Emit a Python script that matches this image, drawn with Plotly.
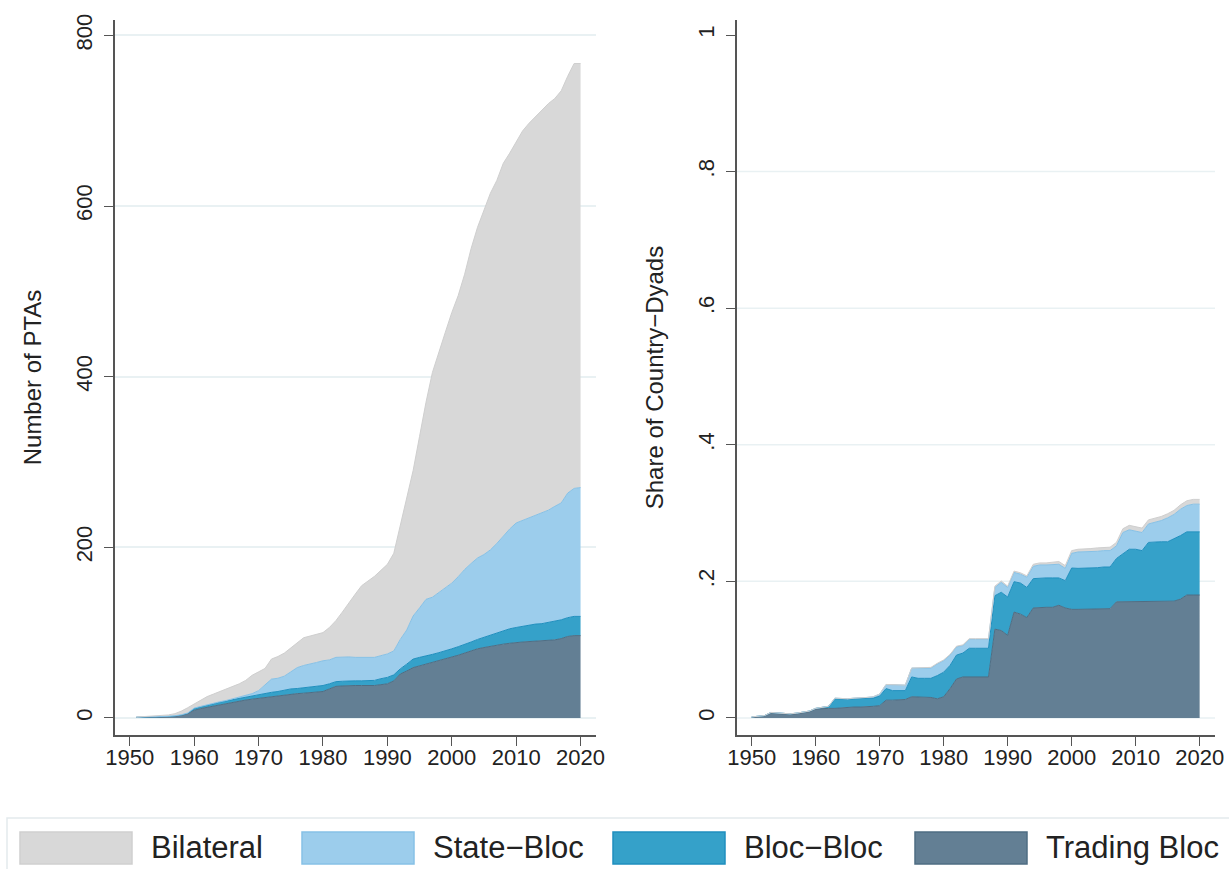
import plotly.graph_objects as go

# ---------------- data ----------------
years_left = list(range(1951, 2021))
left_trading_bloc = [0.5, 1, 1, 1, 1, 1.5, 2, 3, 5, 9, 11, 12.5, 14, 15.5, 17, 18.5, 20, 21, 22, 23,
                     24, 25, 26, 27, 28, 28.5, 29, 29.5, 30, 31, 34, 37, 37.5, 38, 38, 38, 38, 38, 39, 40,
                     43.5, 51.5, 55, 59, 61, 63, 65, 67, 69, 71, 73.5, 76, 78.5, 81, 82.5, 84, 85.5, 86.5, 87.5, 88.5,
                     89, 89.5, 90, 90, 91, 91.5, 93, 95.5, 96.5, 96.5]
left_bloc_bloc = [0.3, 0.3, 0.3, 0.3, 0.3, 0.3, 0.4, 0.5, 0.5, 2, 2, 2.5, 2.5, 3, 3, 3, 3, 3.5, 4, 4.5,
                  5, 5, 5, 5.5, 6, 6, 6.5, 6.5, 7, 7, 6, 5.5, 5.5, 5.5, 5.5, 5.5, 5.5, 6, 7, 7.5,
                  7, 6, 8, 10, 10, 9.5, 9.5, 9.5, 9.5, 10, 10, 10, 10.5, 11, 12, 13, 14, 15.5, 17, 17.5,
                  18.5, 19, 20, 20.5, 21, 21.5, 22, 22, 22.5, 22.5]
left_state_bloc = [0.1, 0.1, 0.1, 0.1, 0.2, 0.2, 0.2, 0.2, 0.3, 0.5, 0.5, 0.5, 0.5, 0.5, 0.5, 1, 1.5, 1.5, 2.5, 4.5,
                   10, 15.5, 15.5, 16.5, 20, 24.5, 26, 27, 28, 29, 28, 28.5, 28.5, 28, 27.5, 27.5, 27.5, 27, 27, 27.5,
                   28, 34.5, 40, 50.5, 58, 66.5, 67, 70.5, 73, 77, 82, 88, 92, 95.5, 97, 100, 105, 111, 117, 122.5,
                   124, 125.5, 127.5, 129.5, 131.5, 135, 137, 146, 150, 151]
left_bilateral = [0.1, 0.1, 0.1, 0.6, 1, 1.5, 2.4, 4.3, 6.2, 4.5, 7.5, 9.5, 11, 12, 13.5, 14.5, 15.5, 18, 21.5, 22,
                  19, 23.5, 25.5, 27, 28, 30, 32.5, 33, 33, 33, 38, 43, 52.5, 63.5, 74, 84, 89, 95, 100, 105,
                  114.5, 133, 153, 170.5, 201, 231, 263.5, 283, 300.5, 317, 329.5, 346, 369, 387.5, 403.5, 418, 425.5, 437, 440.5, 446.5,
                  456.5, 463, 467.5, 472, 476.5, 478, 483, 488.5, 498, 497]

years_right = list(range(1950, 2021))
right_trading_bloc = [0.001, 0.0015, 0.003, 0.007, 0.006, 0.005, 0.005, 0.006, 0.008, 0.009,
                      0.013, 0.014, 0.014, 0.014, 0.015, 0.015, 0.016, 0.016, 0.016, 0.017,
                      0.018, 0.026, 0.026, 0.027, 0.027, 0.031, 0.031, 0.031, 0.030, 0.028,
                      0.031, 0.043, 0.057, 0.060, 0.060, 0.060, 0.060, 0.060, 0.130, 0.128,
                      0.121, 0.155, 0.152, 0.147, 0.161, 0.162, 0.162, 0.162, 0.165, 0.161,
                      0.159, 0.159, 0.159, 0.159, 0.159, 0.159, 0.160, 0.170, 0.170, 0.170,
                      0.170, 0.170, 0.170, 0.170, 0.170, 0.170, 0.171, 0.174, 0.180, 0.180, 0.180]
right_bloc_bloc = [0.0005, 0.0005, 0.0005, 0.001, 0.001, 0.001, 0.001, 0.001, 0.001, 0.001,
                   0.001, 0.001, 0.003, 0.014, 0.012, 0.012, 0.012, 0.012, 0.012, 0.012,
                   0.014, 0.017, 0.014, 0.013, 0.013, 0.029, 0.027, 0.027, 0.028, 0.034,
                   0.036, 0.034, 0.035, 0.035, 0.042, 0.042, 0.042, 0.042, 0.049, 0.056,
                   0.056, 0.0445, 0.0455, 0.044, 0.043, 0.043, 0.043, 0.043, 0.040, 0.040,
                   0.0605, 0.060, 0.060, 0.060, 0.061, 0.062, 0.061, 0.0635, 0.070, 0.077,
                   0.077, 0.075, 0.087, 0.088, 0.088, 0.088, 0.091, 0.093, 0.0925, 0.0925, 0.0925]
right_state_bloc = [0, 0, 0, 0, 0, 0, 0, 0, 0, 0,
                    0, 0, 0, 0.001, 0.001, 0.001, 0.001, 0.001, 0.002, 0.002,
                    0.003, 0.006, 0.009, 0.009, 0.008, 0.013, 0.015, 0.015, 0.015, 0.017,
                    0.017, 0.015, 0.012, 0.011, 0.013, 0.013, 0.013, 0.013, 0.012, 0.0145,
                    0.014, 0.0135, 0.013, 0.015, 0.018, 0.019, 0.019, 0.019, 0.020, 0.018,
                    0.0215, 0.024, 0.024, 0.024, 0.024, 0.024, 0.024, 0.0185, 0.0315, 0.0285,
                    0.027, 0.0265, 0.027, 0.028, 0.031, 0.035, 0.036, 0.0385, 0.0385, 0.0405, 0.0405]
right_bilateral = [0, 0, 0, 0, 0, 0, 0, 0, 0, 0,
                   0, 0, 0, 0, 0, 0, 0, 0, 0, 0,
                   0, 0, 0, 0, 0, 0, 0, 0, 0.001, 0.001,
                   0.001, 0.001, 0.001, 0.001, 0.001, 0.001, 0.001, 0.001, 0.002, 0.002,
                   0.002, 0.002, 0.002, 0.002, 0.003, 0.003, 0.003, 0.004, 0.004, 0.004,
                   0.004, 0.004, 0.004, 0.005, 0.005, 0.005, 0.005, 0.005, 0.0055, 0.0065,
                   0.006, 0.0065, 0.006, 0.006, 0.006, 0.006, 0.006, 0.0065, 0.007, 0.007, 0.007]

series_names = ["Trading Bloc", "Bloc\u2212Bloc", "State\u2212Bloc", "Bilateral"]
x_ticks = [1950, 1960, 1970, 1980, 1990, 2000, 2010, 2020]
left_y_ticks = [0, 200, 400, 600, 800]
right_y_ticks = [0, 0.2, 0.4, 0.6, 0.8, 1]
right_y_ticktext = ["0", ".2", ".4", ".6", ".8", "1"]
right_grid_values = [0, 0.2, 0.4, 0.6, 0.8]

# ---------------- styles ----------------
fills = {"Trading Bloc": "#637f94", "Bloc\u2212Bloc": "#35a1c9",
         "State\u2212Bloc": "#9ccdec", "Bilateral": "#d8d8d8"}
lines = {"Trading Bloc": "#4f6d83", "Bloc\u2212Bloc": "#1f8fbe",
         "State\u2212Bloc": "#86c1e6", "Bilateral": "#cfcfcf"}

FONT = "Liberation Sans, Arial, Helvetica, sans-serif"
W, H = 1229, 869
TOP, BOTTOM = 20, 735

fig = go.Figure()

left_series = [left_trading_bloc, left_bloc_bloc, left_state_bloc, left_bilateral]
right_series = [right_trading_bloc, right_bloc_bloc, right_state_bloc, right_bilateral]

for name, vals in zip(series_names, left_series):
    fig.add_trace(go.Scatter(x=years_left, y=vals, name=name, mode="lines",
                             stackgroup="left", fillcolor=fills[name],
                             line=dict(color=lines[name], width=1),
                             xaxis="x", yaxis="y", showlegend=False))
for name, vals in zip(series_names, right_series):
    fig.add_trace(go.Scatter(x=years_right, y=vals, name=name, mode="lines",
                             stackgroup="right", fillcolor=fills[name],
                             line=dict(color=lines[name], width=1),
                             xaxis="x2", yaxis="y2", showlegend=False))

axis_line = "#555555"
grid = "#e9f1f3"
tickfont = dict(family=FONT, size=22, color="#222222")
titlefont = dict(family=FONT, size=24, color="#222222")

xcommon = dict(range=[1947.7, 2022.4], tickvals=x_ticks, ticks="outside", ticklen=9,
               tickwidth=1.3, tickcolor=axis_line, showline=True, linecolor=axis_line,
               linewidth=1.5, showgrid=False, zeroline=False, tickfont=tickfont,
               ticklabelstandoff=-7, automargin=False)
ycommon = dict(ticks="outside", ticklen=9, tickwidth=1.3, tickcolor=axis_line,
               showline=True, linecolor=axis_line, linewidth=1.5,
               gridcolor=grid, gridwidth=1.5, zeroline=False, tickfont=tickfont,
               tickangle=-90, ticklabelstandoff=3, automargin=False)

fig.update_layout(
    width=W, height=H,
    margin=dict(l=0, r=0, t=TOP, b=H - BOTTOM, autoexpand=False),
    paper_bgcolor="white", plot_bgcolor="white",
    font=dict(family=FONT, color="#222222"),
    xaxis=dict(domain=[115 / W, 596 / W], anchor="y", **xcommon),
    xaxis2=dict(domain=[737 / W, 1215 / W], anchor="y2", **xcommon),
    yaxis=dict(domain=[0, 1], anchor="x", range=[-20, 818], tickvals=left_y_ticks,
               showgrid=True,
               title=dict(text="Number of PTAs", font=titlefont, standoff=24), **ycommon),
    yaxis2=dict(domain=[0, 1], anchor="x2", range=[-0.025, 1.022], tickvals=right_y_ticks,
                ticktext=right_y_ticktext, showgrid=False,
                title=dict(text="Share of Country\u2212Dyads", font=titlefont, standoff=24), **ycommon),
    showlegend=False,
)

# right-panel gridlines (no gridline at the top tick, as in the reference)
for v in right_grid_values:
    fig.add_shape(type="line", xref="x2 domain", yref="y2", x0=0, x1=1, y0=v, y1=v,
                  line=dict(color=grid, width=1.5), layer="below")

# ---------------- legend (drawn) ----------------
def px_x(x):
    return x / W

def px_y(y):
    return (BOTTOM - y) / (BOTTOM - TOP)

fig.add_shape(type="rect", xref="paper", yref="paper",
              x0=px_x(7), x1=px_x(1260), y0=px_y(818), y1=px_y(900),
              line=dict(color="#e3eaed", width=1.5), fillcolor="white", layer="below")

legend_order = ["Bilateral", "State\u2212Bloc", "Bloc\u2212Bloc", "Trading Bloc"]
swatch_x = [20, 302, 613, 915]
sw_w = 112
for name, sx in zip(legend_order, swatch_x):
    fig.add_shape(type="rect", xref="paper", yref="paper",
                  x0=px_x(sx), x1=px_x(sx + sw_w), y0=px_y(864), y1=px_y(832),
                  fillcolor=fills[name], line=dict(color=lines[name], width=1.5))
    fig.add_annotation(x=px_x(sx + sw_w + 18), y=px_y(847), xref="paper", yref="paper",
                       text=name, showarrow=False, xanchor="left", yanchor="middle",
                       borderpad=0, font=dict(family=FONT, size=31, color="#222222"))

fig.write_html("out.html", config={"displayModeBar": False},
               post_script="document.body.style.margin='0';document.body.style.overflow='hidden';")
